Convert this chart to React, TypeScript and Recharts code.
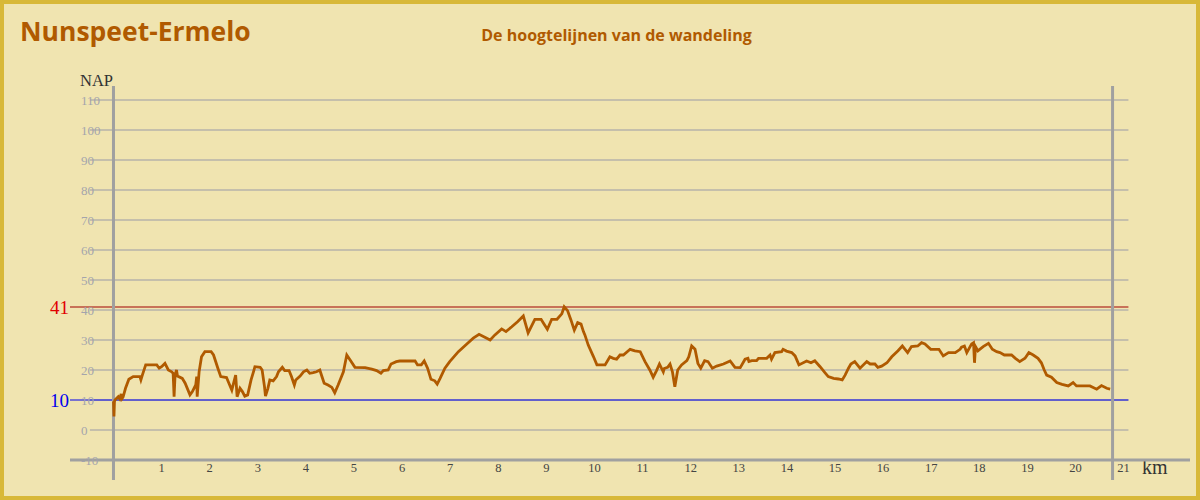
import React from "react";
import { LineChart, Line, XAxis, YAxis, ReferenceLine } from "recharts";

// route distance (km) and height above NAP (m)
const distanceKm = [
  0.0, 0.01, 0.02, 0.03, 0.1, 0.13, 0.16, 0.18, 0.2, 0.25, 0.32, 0.41, 0.55, 0.57, 0.6, 0.67, 0.9, 0.95,
  1.0, 1.07, 1.14, 1.21, 1.24, 1.26, 1.28, 1.31, 1.33, 1.43, 1.49, 1.59, 1.64, 1.71, 1.73, 1.74, 1.78, 1.83, 1.9,
  2.03, 2.08, 2.17, 2.23, 2.35, 2.4, 2.46, 2.54, 2.57, 2.63, 2.68, 2.73, 2.79, 2.86, 2.91, 2.94,
  3.05, 3.09, 3.14, 3.16, 3.21, 3.25, 3.32, 3.39, 3.43, 3.51, 3.56, 3.65, 3.7, 3.76, 3.79, 3.88, 3.95,
  4.02, 4.08, 4.15, 4.22, 4.29, 4.33, 4.38, 4.46, 4.54, 4.6, 4.67, 4.78, 4.85, 4.92,
  5.02, 5.23, 5.37, 5.47, 5.56, 5.61, 5.71, 5.77, 5.88, 5.95,
  6.27, 6.32, 6.4, 6.46, 6.53, 6.6, 6.68, 6.73, 6.79, 6.89, 6.99,
  7.17, 7.34, 7.48, 7.6, 7.72, 7.83, 7.93, 8.07, 8.16, 8.28, 8.4, 8.52, 8.62, 8.76, 8.89, 8.94,
  9.02, 9.11, 9.22, 9.32, 9.37, 9.44, 9.51, 9.58, 9.65, 9.72, 9.77, 9.8, 9.87, 9.98,
  10.05, 10.22, 10.32, 10.39, 10.46, 10.53, 10.6, 10.74, 10.84, 10.95,
  11.05, 11.15, 11.22, 11.29, 11.35, 11.43, 11.45, 11.52, 11.57, 11.62, 11.67, 11.73, 11.81, 11.92, 11.96,
  12.02, 12.09, 12.15, 12.21, 12.29, 12.36, 12.45, 12.54, 12.68, 12.82, 12.92,
  13.03, 13.13, 13.19, 13.21, 13.27, 13.37, 13.41, 13.58, 13.65, 13.68, 13.75, 13.89, 13.92, 13.99,
  14.1, 14.17, 14.25, 14.41, 14.5, 14.58, 14.69, 14.79, 14.86, 14.97,
  15.07, 15.15, 15.21, 15.28, 15.33, 15.41, 15.52, 15.66, 15.73, 15.83, 15.89, 15.97,
  16.08, 16.18, 16.31, 16.4, 16.51, 16.59, 16.72, 16.8, 16.87, 16.99,
  17.16, 17.25, 17.36, 17.5, 17.6, 17.63, 17.69, 17.74, 17.84, 17.88, 17.9, 17.92, 17.97,
  18.08, 18.19, 18.27, 18.36, 18.43, 18.52, 18.67, 18.75, 18.84, 18.95,
  19.03, 19.12, 19.22, 19.29, 19.35, 19.4, 19.5, 19.61, 19.72, 19.85, 19.95,
  20.02, 20.3, 20.44, 20.54, 20.65, 20.72,
];

const elevationNap = [
  9.5, 4.5, 9.5, 10, 11.1, 10.4, 12, 10.5, 11, 13.9, 16.9, 17.8, 17.8, 16.7, 18.3, 21.7, 21.7, 20.6,
  21.1, 22.2, 20, 19.4, 18.9, 11.1, 18.3, 20, 18, 17.2, 15.6, 11.7, 12.8, 15, 17.8, 11.1, 19.4, 24.4, 26.1,
  26.1, 25, 20.6, 17.8, 17.5, 15.6, 13.3, 18.3, 11.1, 13.9, 12.8, 11.3, 11.7, 16.7, 19.4, 21.1,
  20.9, 20, 14.4, 11.3, 13.9, 16.7, 16.4, 17.8, 19.4, 20.9, 19.8, 19.8, 17.8, 15, 16.7, 18, 19.4,
  20, 18.9, 19.1, 19.4, 20, 18, 15.6, 15, 14.2, 12.4, 15, 19.4, 25, 23.3,
  20.9, 20.8, 20.3, 19.8, 18.9, 19.8, 20, 22, 22.8, 23,
  23, 21.7, 21.7, 23, 20.6, 16.9, 16.4, 15.3, 17.2, 20.6, 22.8,
  26.1, 28.6, 30.6, 31.9, 30.9, 30, 31.7, 33.7, 32.8, 34.4, 36.1, 38, 32.4, 36.9, 36.9, 35.6,
  33.6, 36.9, 36.9, 38.7, 41.1, 39.8, 36.7, 33.3, 35.8, 35.3, 32.8, 31.7, 28.3, 24.4,
  21.7, 21.7, 24.4, 23.9, 23.6, 25, 25, 26.9, 26.4, 26.1,
  22.8, 20, 17.6, 19.8, 22, 19.4, 20.5, 20.9, 22, 19.4, 14.4, 20, 21.7, 23.1, 24.4,
  28, 26.9, 22.2, 20.6, 23.1, 22.8, 20.6, 21.3, 22, 23, 20.9,
  20.8, 23.6, 23.9, 22.8, 23.1, 23.1, 23.9, 23.9, 25, 23.6, 25.8, 26.1, 26.9, 26.3,
  25.8, 24.7, 21.7, 23, 22.4, 23.1, 21.1, 19.1, 17.8, 17.2,
  17, 16.7, 18.3, 20.6, 22, 22.8, 20.6, 22.8, 22, 22, 20.9, 21.3,
  22.4, 24.4, 26.4, 28, 25.8, 27.8, 28, 29.1, 28.7, 26.9,
  26.9, 24.7, 25.8, 25.8, 26.9, 27.6, 28, 25.8, 28.7, 29.1, 22.4, 27.8, 26.4,
  27.8, 28.9, 26.9, 26.1, 25.8, 25, 25, 23.9, 22.8, 23.9,
  25.8, 25, 23.9, 22.4, 20, 18.3, 17.6, 15.8, 15.2, 14.7, 15.8,
  14.7, 14.7, 13.6, 14.8, 13.9, 13.6,
];

const kmTicks = [1, 2, 3, 4, 5, 6, 7, 8, 9, 10, 11, 12, 13, 14, 15, 16, 17, 18, 19, 20, 21];
const napTicks = [-10, 0, 10, 20, 30, 40, 50, 60, 70, 80, 90, 100, 110];
const highest = 41;
const lowest = 10;
const routeEnd = 20.77;

const data = distanceKm.map((km, i) => ({ km, nap: elevationNap[i] }));

const X_DOMAIN: [number, number] = [-0.904, 22.38];
const Y_DOMAIN: [number, number] = [-10, 114.67];
const GRID_FROM = -0.49;
const GRID_TO = 21.1;
const AXIS_BOTTOM = -16.67;

const brown = "#b05a00";
const gridGray = "#9a9aa6";
const axisGray = "#a0a0a0";

// y labels sit to the right of the axis box, on top of the grid lines
const YTick = (props: any) => (
  <text x={props.x + 19} y={props.y + 4.5} textAnchor="start" fontSize={13} fill="#a4a4ac" fontFamily="'Liberation Serif', serif">
    {props.payload.value}
  </text>
);

const XTick = (props: any) => (
  <text x={props.x} y={props.y + 4} textAnchor="middle" fontSize={12.5} fill="#444" fontFamily="'Liberation Serif', serif">
    {props.payload.value}
  </text>
);

export default function App() {
  return (
    <div
      style={{
        position: "absolute",
        left: 0,
        top: 0,
        width: 1200,
        height: 500,
        boxSizing: "border-box",
        background: "#f0e4b0",
        border: "4px solid #d8b838",
        overflow: "hidden",
      }}
    >
      <div
        style={{
          position: "absolute",
          left: 16,
          top: 9,
          fontFamily: "'Open Sans', sans-serif",
          fontWeight: 700,
          fontSize: 26.5,
          color: brown,
        }}
      >
        Nunspeet-Ermelo
      </div>
      <div
        style={{
          position: "absolute",
          left: 0,
          width: 1225,
          top: 20,
          textAlign: "center",
          fontFamily: "'Open Sans', sans-serif",
          fontWeight: 700,
          fontSize: 16,
          color: brown,
        }}
      >
        De hoogtelijnen van de wandeling
      </div>
      <div style={{ position: "absolute", left: 76, top: 67, fontFamily: "'Liberation Serif', serif", fontSize: 16.5, color: "#333" }}>
        NAP
      </div>
      <div style={{ position: "absolute", left: 1138, top: 452, fontFamily: "'Liberation Serif', serif", fontSize: 20, color: "#333" }}>
        km
      </div>
      <div style={{ position: "absolute", left: -4, top: -4 }}>
        <LineChart width={1200} height={500} data={data} margin={{ top: 86, right: 10, bottom: 20, left: 30 }}>
          <XAxis
            dataKey="km"
            type="number"
            domain={X_DOMAIN}
            ticks={kmTicks}
            allowDataOverflow
            axisLine={false}
            tickLine={false}
            height={20}
            tick={<XTick />}
          />
          <YAxis
            type="number"
            domain={Y_DOMAIN}
            ticks={napTicks}
            interval={0}
            allowDataOverflow
            axisLine={false}
            tickLine={false}
            width={40}
            tick={<YTick />}
          />
          {napTicks.slice(1).map((v) => (
            <ReferenceLine
              key={v}
              segment={[
                { x: GRID_FROM, y: v },
                { x: GRID_TO, y: v },
              ]}
              stroke={gridGray}
              strokeWidth={1}
            />
          ))}
          <ReferenceLine
            segment={[
              { x: X_DOMAIN[0], y: highest },
              { x: GRID_TO, y: highest },
            ]}
            stroke="#a00000"
            strokeWidth={1}
            label={{ value: String(highest), position: "left", offset: 1, fill: "#e00000", fontSize: 19, fontFamily: "'Liberation Serif', serif" }}
          />
          <ReferenceLine
            segment={[
              { x: X_DOMAIN[0], y: lowest },
              { x: GRID_TO, y: lowest },
            ]}
            stroke="#0000ee"
            strokeWidth={1}
            label={{ value: String(lowest), position: "left", offset: 1, fill: "#0000ee", fontSize: 19, fontFamily: "'Liberation Serif', serif" }}
          />
          <ReferenceLine y={-10} stroke={axisGray} strokeWidth={3} />
          <ReferenceLine
            segment={[
              { x: 0, y: AXIS_BOTTOM },
              { x: 0, y: Y_DOMAIN[1] },
            ]}
            ifOverflow="visible"
            stroke={axisGray}
            strokeWidth={3}
          />
          <ReferenceLine
            segment={[
              { x: routeEnd, y: AXIS_BOTTOM },
              { x: routeEnd, y: Y_DOMAIN[1] },
            ]}
            ifOverflow="visible"
            stroke={axisGray}
            strokeWidth={3}
          />
          <Line
            type="linear"
            dataKey="nap"
            stroke={brown}
            strokeWidth={2.8}
            dot={false}
            isAnimationActive={false}
          />
        </LineChart>
      </div>
    </div>
  );
}
